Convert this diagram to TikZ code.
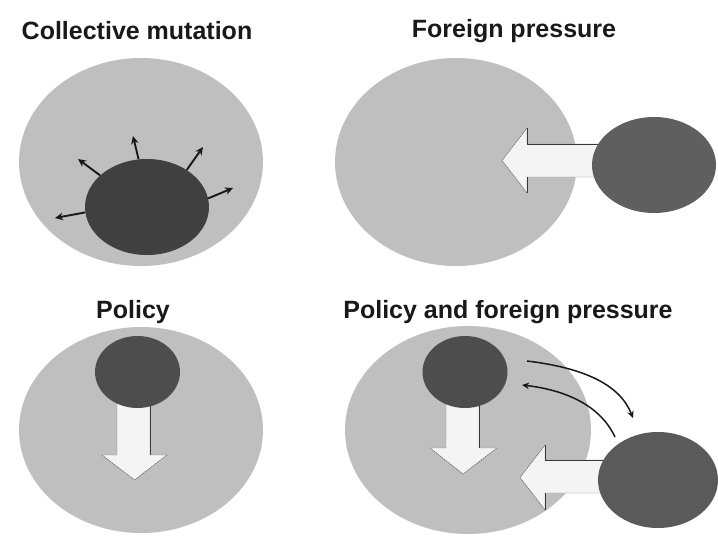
\documentclass[tikz,border=0pt]{standalone}
\usepackage{fontspec}
\setmainfont{Liberation Sans}
\usetikzlibrary{shapes.geometric,arrows.meta}
\definecolor{pool}{HTML}{BFBFBF}
\definecolor{coreA}{HTML}{404040}
\definecolor{coreB}{HTML}{5F5F5F}
\definecolor{coreC}{HTML}{4D4D4D}
\definecolor{coreD}{HTML}{5A5A5A}
\definecolor{blockfill}{HTML}{F4F4F4}
\definecolor{blockedge}{HTML}{3A3A3A}
\begin{document}
\begin{tikzpicture}[x=1pt,y=-1pt,
  title/.style={font=\bfseries\fontsize{25}{29}\selectfont, text=black!90, inner sep=0pt},
  blob/.style={ellipse, inner sep=0pt, draw=none},
  smallarr/.style={line width=1.9pt, draw=black!90, -{Stealth[length=8pt,width=7.5pt]}},
  curvearr/.style={line width=1.5pt, draw=black!90, -{Stealth[length=7pt,width=6.5pt]}},
  blockarr/.style={fill=blockfill, draw=black!45, line width=0.4pt},
  shadowedge/.style={draw=blockedge, line width=0.9pt},
  dotedge/.style={draw=black!70, line width=0.6pt, dotted}]
\useasboundingbox[fill=white] (0,0) rectangle (718,536);

% titles
\node[title] (t1) at (137,31) {Collective mutation};
\node[title] (t2) at (514,31) {Foreign pressure};
\node[title] (t3) at (133,312) {Policy};
\node[title] (t4) at (508,312) {Policy and foreign pressure};

% ---- collective mutation ----
\node[blob, fill=pool, minimum width=244pt, minimum height=208pt] (p1) at (141,162) {};
\node[blob, fill=coreA, minimum width=124pt, minimum height=96pt] (c1) at (147,207) {};
\coordinate (m1) at (55,218);
\coordinate (m2) at (78,159);
\coordinate (m3) at (133,136);
\coordinate (m4) at (203,147);
\coordinate (m5) at (233,188);
\draw[smallarr] (c1.185) -- (m1);
\draw[smallarr] (c1.146) -- (m2);
\draw[smallarr] (c1.100) -- (m3);
\draw[smallarr] (c1.43) -- (m4);
\draw[smallarr] (c1.8) -- (m5);

% ---- foreign pressure ----
\node[blob, fill=pool, minimum width=242pt, minimum height=208pt] (p2) at (456,162) {};
\path[blockarr] (600,144) -- (527,144) -- (527,128) -- (502,160.5) -- (527,193) -- (527,177) -- (600,177) -- cycle;
\draw[shadowedge] (600,144) -- (527,144) -- (527,128);
\draw[shadowedge] (527,177) -- (527,193);
\draw[dotedge] (527,128) -- (502,160.5) -- (527,193);
\node[blob, fill=coreB, minimum width=124pt, minimum height=96pt] (c2) at (654,165) {};

% ---- policy ----
\node[blob, fill=pool, minimum width=244pt, minimum height=206pt] (p3) at (141,430) {};
\path[blockarr] (117,390) -- (117,455) -- (102,455) -- (134.5,480) -- (167,455) -- (150,455) -- (150,390) -- cycle;
\draw[shadowedge] (150,390) -- (150,455);
\draw[dotedge] (102,455) -- (134.5,480) -- (167,455);
\node[blob, fill=coreC, minimum width=85pt, minimum height=72pt] (c3) at (137.5,372) {};

% ---- policy and foreign pressure ----
\node[blob, fill=pool, minimum width=246pt, minimum height=208pt] (p4) at (468,430) {};
\path[blockarr] (446,390) -- (446,448) -- (430,448) -- (463,474) -- (497,448) -- (479,448) -- (479,390) -- cycle;
\draw[shadowedge] (479,390) -- (479,448);
\draw[dotedge] (430,448) -- (463,474) -- (497,448);
\node[blob, fill=coreC, minimum width=85pt, minimum height=72pt] (c4) at (465,372) {};
\path[blockarr] (620,460) -- (545,460) -- (545,445) -- (520,477.5) -- (545,510) -- (545,493) -- (620,493) -- cycle;
\draw[shadowedge] (620,460) -- (545,460) -- (545,445);
\draw[shadowedge] (545,493) -- (545,510);
\draw[dotedge] (545,445) -- (520,477.5) -- (545,510);
\node[blob, fill=coreD, minimum width=120pt, minimum height=96pt] (c5) at (658,480) {};

% exchange between policy core and foreign core
\coordinate (s1) at (527,361);
\coordinate (e1) at (633,418);
\coordinate (s2) at (615,437);
\coordinate (e2) at (522,385);
\draw[curvearr] (s1) .. controls (585,368) and (620,385) .. (e1);
\draw[curvearr] (s2) .. controls (600,405) and (565,390) .. (e2);
\end{tikzpicture}
\end{document}
